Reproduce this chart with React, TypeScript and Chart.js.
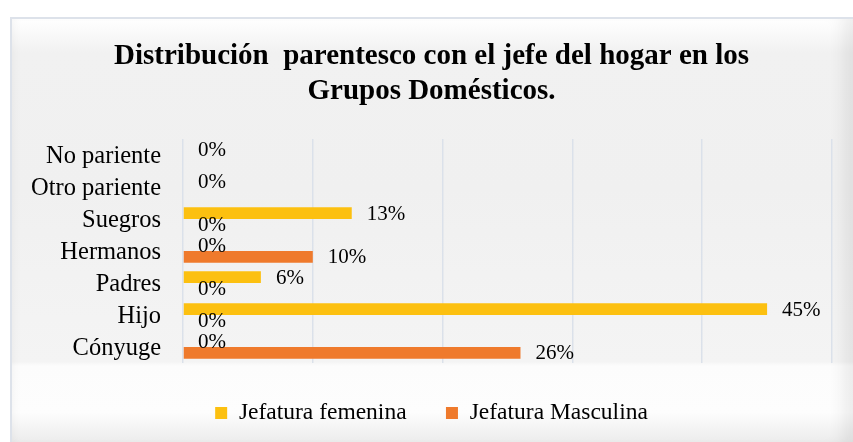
import React, { useEffect, useRef } from 'react';
import { Chart, registerables } from 'chart.js';

Chart.register(...registerables);

const categories = ['No pariente', 'Otro pariente', 'Suegros', 'Hermanos', 'Padres', 'Hijo', 'Cónyuge'];
const femenina: (number | null)[] = [0, 0, 0.13, 0, 0.06, 0.45, 0];
const masculina: (number | null)[] = [null, null, 0, 0.10, 0, 0, 0.26];
const seriesNames = ['Jefatura femenina', 'Jefatura Masculina'];
const titleLines = ['Distribución  parentesco con el jefe del hogar en los', 'Grupos Domésticos.'];
const xMin = 0;
const xMax = 0.5;
const xStep = 0.1;

const SERIF = '"Liberation Serif", "Times New Roman", serif';

const valueLabels = {
  id: 'valueLabels',
  afterDatasetsDraw(chart: any) {
    const ctx = chart.ctx;
    ctx.save();
    ctx.font = `21px ${SERIF}`;
    ctx.fillStyle = '#000';
    ctx.textAlign = 'left';
    ctx.textBaseline = 'middle';
    chart.data.datasets.forEach((ds: any, di: number) => {
      const meta = chart.getDatasetMeta(di);
      meta.data.forEach((bar: any, i: number) => {
        const v = ds.data[i];
        if (v == null || !isFinite(bar.x) || !isFinite(bar.y)) return;
        ctx.fillText(Math.round(v * 100) + '%', bar.x + 15, bar.y + 1);
      });
    });
    ctx.restore();
  },
};

export default function App() {
  const ref = useRef<HTMLCanvasElement | null>(null);

  useEffect(() => {
    if (!ref.current) return;
    const chart = new Chart(ref.current, {
      type: 'bar',
      data: {
        labels: categories,
        datasets: [
          {
            label: seriesNames[0],
            data: femenina,
            backgroundColor: '#FCC010',
            borderWidth: 0,
            categoryPercentage: 0.74,
            barPercentage: 1,
          },
          {
            label: seriesNames[1],
            data: masculina,
            backgroundColor: '#EF7A2C',
            borderWidth: 0,
            categoryPercentage: 0.74,
            barPercentage: 1,
          },
        ],
      },
      options: {
        indexAxis: 'y',
        responsive: false,
        animation: false,
        layout: { padding: { left: 0, right: 0, top: 0, bottom: 7.25 } },
        scales: {
          x: {
            min: xMin,
            max: xMax,
            ticks: { display: false, stepSize: xStep },
            grid: { color: '#dbe1ea', lineWidth: 1.5, drawTicks: false },
            border: { display: false },
            afterFit: (s: any) => { s.height = 28.25; },
          },
          y: {
            ticks: {
              color: '#000',
              font: { family: SERIF, size: 24.5 },
              padding: 22,
              autoSkip: false,
              labelOffset: 2,
            },
            grid: { display: false, drawTicks: false },
            border: { display: false },
            afterFit: (s: any) => { s.width = 173; },
          },
          yRight: {
            type: 'category',
            position: 'right',
            labels: categories,
            ticks: { display: false },
            grid: { display: false, drawTicks: false },
            border: { display: false },
            afterFit: (s: any) => { s.width = 21; },
          },
        },
        plugins: {
          title: {
            display: true,
            text: titleLines,
            color: '#000',
            font: { family: SERIF, size: 29, weight: 'bold', lineHeight: 1.2 },
            padding: { top: 22.5, bottom: 29.9 },
          },
          legend: {
            position: 'bottom',
            labels: {
              color: '#000',
              font: { family: SERIF, size: 23.5 },
              boxWidth: 12,
              boxHeight: 12,
              padding: 10,
              generateLabels: (c: any) => {
                const items = Chart.defaults.plugins.legend.labels.generateLabels(c);
                items.forEach((it: any, i: number) => {
                  it.lineWidth = 0;
                  if (i === 0) it.text = it.text + '     ';
                });
                return items;
              },
            },
          },
          tooltip: { enabled: false },
        },
      },
      plugins: [valueLabels],
    });
    return () => chart.destroy();
  }, []);

  return (
    <div style={{ position: 'fixed', left: 0, top: 0, width: 853, height: 442, background: '#fff', overflow: 'hidden' }}>
      <div
        style={{
          position: 'absolute',
          left: 10,
          top: 17,
          width: 843,
          height: 425,
          boxSizing: 'border-box',
          borderTop: '2px solid #dde2ea',
          borderLeft: '2px solid #dde2ea',
          background:
            'linear-gradient(to bottom, #ffffff 0%, #f1f1f1 8%, #f0f0f0 40%, #f4f4f4 81%, #fcfcfc 82%, #fdfdfd 93%, #ececec 100%)',
          boxShadow: 'inset -20px 0 16px -10px rgba(0,0,0,0.07), inset 6px 0 8px -4px rgba(0,0,0,0.04)',
        }}
      />
      <canvas
        ref={ref}
        width={843}
        height={425}
        style={{ position: 'absolute', left: 10, top: 17, width: 843, height: 425 }}
      />
    </div>
  );
}
